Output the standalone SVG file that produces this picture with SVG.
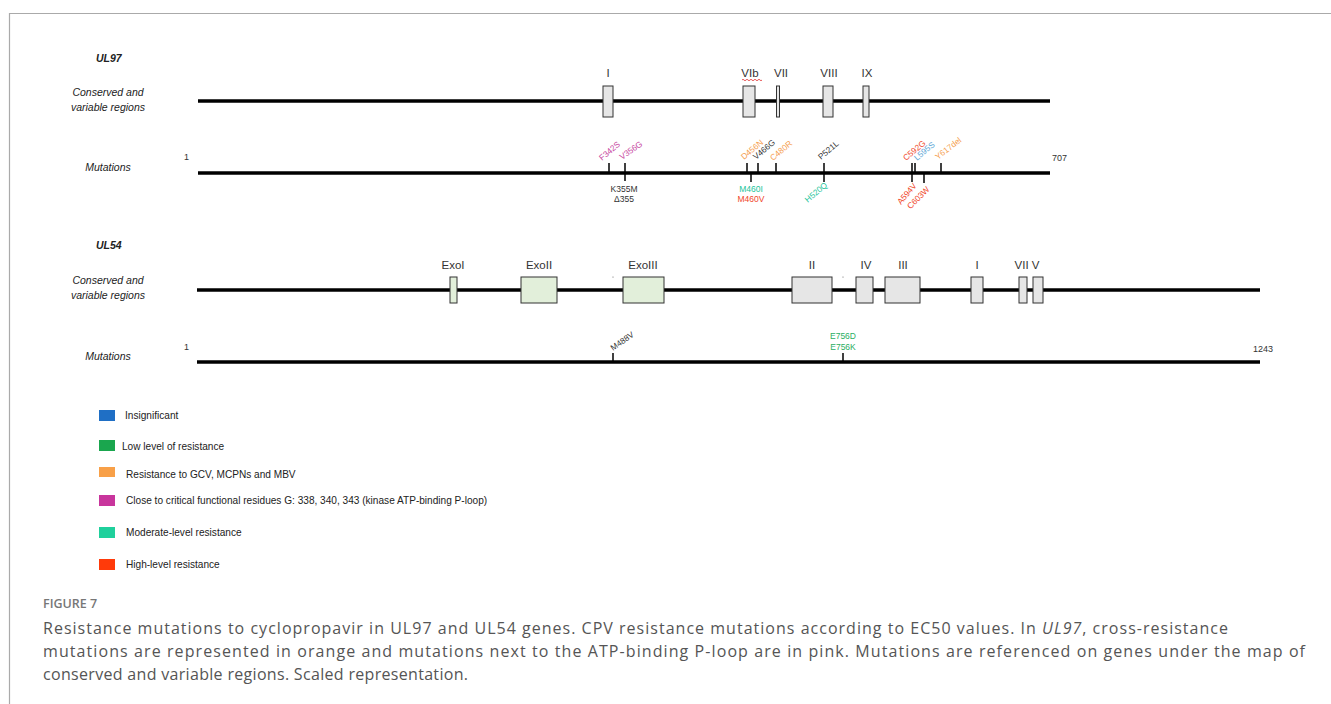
<svg xmlns="http://www.w3.org/2000/svg" width="1331" height="704" viewBox="0 0 1331 704">
<style>
.lbl{font-family:"Liberation Sans",Arial,sans-serif;font-style:italic;font-size:10.5px;fill:#222}
.gene{font-family:"Liberation Sans",Arial,sans-serif;font-style:italic;font-weight:bold;font-size:10.5px;fill:#222}
.reg{font-family:"Liberation Sans",Arial,sans-serif;font-size:11.5px;fill:#333;text-anchor:middle}
.num{font-family:"Liberation Sans",Arial,sans-serif;font-size:9px;fill:#333}
.mut{font-family:"Liberation Sans",Arial,sans-serif;font-size:8.3px}
.mutc{font-family:"Liberation Sans",Arial,sans-serif;font-size:8.5px;text-anchor:middle}
.leg{font-family:"Liberation Sans",Arial,sans-serif;font-size:10.1px;fill:#222}
.cap{font-family:"Open Sans","Liberation Sans",sans-serif;font-size:16px;fill:#555}
.fig{font-family:"Open Sans","Liberation Sans",sans-serif;font-size:12.5px;font-weight:600;fill:#777}
.main{stroke:#000;stroke-width:3.5;fill:none}
.tick{stroke:#000;stroke-width:1.5}
.box{fill:#e6e6e6;stroke:#333;stroke-width:1}
.gbox{fill:#e2efda;stroke:#333;stroke-width:1}
.pink{fill:#c8489f}.orange{fill:#f5a050}.black{fill:#333}.teal{fill:#1cc49a}.red{fill:#f0462a}.lblue{fill:#5aa6d6}.green{fill:#2aae62}
</style>
<g id="frame" stroke="#aaa" stroke-width="1.2" fill="none">
<path d="M9.5 704 V13.5 H1331"/>
</g>
<g id="ul97">
<text class="gene" x="96" y="62">UL97</text>
<text class="lbl" x="108" y="96" text-anchor="middle">Conserved and</text>
<text class="lbl" x="108" y="111" text-anchor="middle">variable regions</text>
<text class="lbl" x="108" y="171" text-anchor="middle">Mutations</text>
</g>
<g id="ul97-regions">
<line class="main" x1="198" y1="101" x2="1050" y2="101"/>
<rect class="box" x="603" y="86" width="10" height="31"/>
<rect class="box" x="743" y="86" width="12" height="31"/>
<rect class="box" x="776.5" y="86" width="3" height="31"/>
<rect class="box" x="823" y="86" width="10" height="31"/>
<rect class="box" x="863" y="86" width="6" height="31"/>
<text class="reg" x="608" y="77">I</text>
<text class="reg" x="750" y="77">VIb</text>
<path d="M742 80 q1 -1.5 2 0 t2 0 t2 0 t2 0 t2 0 t2 0 t2 0 t2 0 t2 0 t2 0" stroke="#e03030" stroke-width="0.8" fill="none"/>
<text class="reg" x="781" y="77">VII</text>
<text class="reg" x="829" y="77">VIII</text>
<text class="reg" x="867" y="77">IX</text>
</g>
<g id="ul97-mutations">
<line class="main" x1="198" y1="173" x2="1050" y2="173" stroke-width="3"/>
<text class="num" x="184" y="160">1</text>
<text class="num" x="1052" y="161">707</text>
<g class="ticks">
<line class="tick" x1="609" y1="163" x2="609" y2="173"/>
<line class="tick" x1="625" y1="163" x2="625" y2="181" stroke-width="2"/>
<line class="tick" x1="747" y1="163" x2="747" y2="173"/>
<line class="tick" x1="751" y1="173" x2="751" y2="182"/>
<line class="tick" x1="758" y1="163" x2="758" y2="173"/>
<line class="tick" x1="776" y1="163" x2="776" y2="173"/>
<line class="tick" x1="824" y1="163" x2="824" y2="182" stroke-width="2"/>
<line class="tick" x1="912" y1="163" x2="912" y2="182" stroke-width="2"/>
<line class="tick" x1="915" y1="163" x2="915" y2="173"/>
<line class="tick" x1="924" y1="173" x2="924" y2="183"/>
<line class="tick" x1="941" y1="163" x2="941" y2="173"/>
</g>
<text class="mut pink" transform="translate(602,161) rotate(-40)">F342S</text>
<text class="mut pink" transform="translate(622,160) rotate(-35)">V356G</text>
<text class="mut orange" transform="translate(744,160) rotate(-40)">D456N</text>
<text class="mut black" transform="translate(756,160) rotate(-40)">V466G</text>
<text class="mut orange" transform="translate(773,161) rotate(-40)">C480R</text>
<text class="mut black" transform="translate(821,160) rotate(-40)">P521L</text>
<text class="mut red" transform="translate(906,161) rotate(-40)">C592G</text>
<text class="mut lblue" transform="translate(917,161) rotate(-40)">L595S</text>
<text class="mut orange" transform="translate(938,160) rotate(-38)">Y617del</text>
<text class="mutc black" x="624" y="192">K355M</text>
<text class="mutc black" x="624" y="202">Δ355</text>
<text class="mutc teal" x="751" y="192">M460I</text>
<text class="mutc red" x="751" y="202">M460V</text>
<text class="mut teal" text-anchor="end" transform="translate(828,186) rotate(-40)">H520Q</text>
<text class="mut red" text-anchor="end" transform="translate(917,186) rotate(-50)">A594V</text>
<text class="mut red" text-anchor="end" transform="translate(930,190) rotate(-45)">C603W</text>
</g>
<g id="ul54">
<text class="gene" x="96" y="249">UL54</text>
<text class="lbl" x="108" y="284" text-anchor="middle">Conserved and</text>
<text class="lbl" x="108" y="299" text-anchor="middle">variable regions</text>
<text class="lbl" x="108" y="360" text-anchor="middle">Mutations</text>
</g>
<g id="ul54-regions">
<line class="main" x1="197" y1="290" x2="1260" y2="290"/>
<rect class="gbox" x="450" y="277" width="7" height="26"/>
<rect class="gbox" x="521" y="277" width="36" height="26"/>
<rect class="gbox" x="623" y="277" width="41" height="26"/>
<rect class="box" x="792" y="277" width="40" height="26"/>
<rect class="box" x="856" y="277" width="17" height="26"/>
<rect class="box" x="885" y="277" width="35" height="26"/>
<rect class="box" x="971" y="277" width="12" height="26"/>
<rect class="box" x="1019" y="277" width="8" height="26"/>
<rect class="box" x="1033" y="277" width="10" height="26"/>
<text class="reg" x="453" y="269">ExoI</text>
<text class="reg" x="539" y="269">ExoII</text>
<text class="reg" x="643" y="269">ExoIII</text>
<text class="reg" x="812" y="269">II</text>
<text class="reg" x="866" y="269">IV</text>
<text class="reg" x="903" y="269">III</text>
<text class="reg" x="977" y="269">I</text>
<text class="reg" x="1027" y="269">VII V</text>
<circle cx="613" cy="277" r="0.6" fill="#666"/>
<circle cx="843" cy="277" r="0.6" fill="#666"/>
</g>
<g id="ul54-mutations">
<line class="main" x1="197" y1="362" x2="1260" y2="362" stroke-width="3"/>
<text class="num" x="184" y="350">1</text>
<text class="num" x="1253" y="352">1243</text>
<line class="tick" x1="613" y1="353" x2="613" y2="362"/>
<line class="tick" x1="843" y1="353" x2="843" y2="362"/>
<text class="mut black" transform="translate(613,351) rotate(-35)">M488V</text>
<text class="mutc green" x="843" y="339">E756D</text>
<text class="mutc green" x="843" y="350">E756K</text>
</g>
<g id="legend">
<rect x="99" y="410" width="16" height="11" fill="#1f6fc5"/>
<text class="leg" x="125" y="419">Insignificant</text>
<rect x="99" y="440" width="16" height="11" fill="#1aa64e"/>
<text class="leg" x="122" y="450">Low level of resistance</text>
<rect x="99" y="467" width="16" height="10" fill="#f8a048"/>
<text class="leg" x="126" y="478">Resistance to GCV, MCPNs and MBV</text>
<rect x="99" y="495" width="16" height="11" fill="#c8359c"/>
<text class="leg" x="126" y="504">Close to critical functional residues G: 338, 340, 343 (kinase ATP-binding P-loop)</text>
<rect x="99" y="527" width="16" height="11" fill="#1fd09c"/>
<text class="leg" x="126" y="536">Moderate-level resistance</text>
<rect x="99" y="559" width="16" height="11" fill="#ff3a0a"/>
<text class="leg" x="126" y="568">High-level resistance</text>
</g>
<g id="caption">
<text class="fig" x="43" y="608">FIGURE 7</text>
<text class="cap" x="43" y="634" textLength="1185" lengthAdjust="spacing">Resistance mutations to cyclopropavir in UL97 and UL54 genes. CPV resistance mutations according to EC50 values. In <tspan font-style="italic">UL97</tspan>, cross-resistance</text>
<text class="cap" x="43" y="657" textLength="1262" lengthAdjust="spacing">mutations are represented in orange and mutations next to the ATP-binding P-loop are in pink. Mutations are referenced on genes under the map of</text>
<text class="cap" x="43" y="680" textLength="425" lengthAdjust="spacing">conserved and variable regions. Scaled representation.</text>
</g>
</svg>
